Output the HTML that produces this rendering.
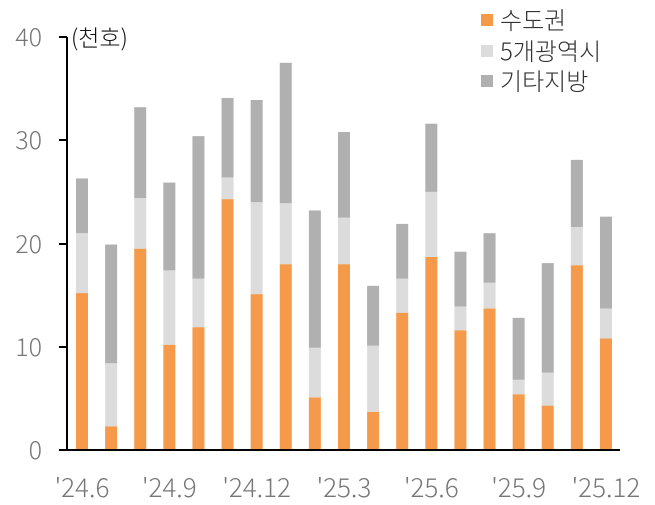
<!DOCTYPE html>
<html><head><meta charset="utf-8"><style>
html,body{margin:0;padding:0;background:#fff;}
svg{display:block;font-family:"Noto Sans CJK KR","Liberation Sans",sans-serif;font-weight:300;}
</style></head><body>
<svg width="655" height="505" viewBox="0 0 655 505" xmlns="http://www.w3.org/2000/svg">
<g id="bars"></g>
<line x1="67" y1="37" x2="67" y2="450" stroke="#000" stroke-width="2"/>
<line x1="59" y1="37" x2="67" y2="37" stroke="#000" stroke-width="2"/>
<line x1="59" y1="140" x2="67" y2="140" stroke="#000" stroke-width="2"/>
<line x1="59" y1="244" x2="67" y2="244" stroke="#000" stroke-width="2"/>
<line x1="59" y1="347" x2="67" y2="347" stroke="#000" stroke-width="2"/>
<line x1="59" y1="450" x2="620" y2="450" stroke="#000" stroke-width="2"/>
<g fill="#777" font-size="25" text-anchor="end">
<text x="42" y="46">40</text>
<text x="42" y="149">30</text>
<text x="42" y="253">20</text>
<text x="42" y="356">10</text>
<text x="42" y="459">0</text>
</g>
<text x="71" y="46" font-size="23" fill="#111">(천호)</text>
<g fill="#777" font-size="26" text-anchor="middle" id="xl"></g>
<rect x="481" y="14" width="12" height="12" fill="#F59A4A"/>
<rect x="481" y="45" width="12" height="12" fill="#DCDCDC"/>
<rect x="481" y="75" width="12" height="12" fill="#B0B0B0"/>
<g font-size="24" fill="#333">
<text x="500" y="29">수도권</text>
<text x="500" y="60">5개광역시</text>
<text x="500" y="90">기타지방</text>
</g>
<script>
var d=[[15.2,21.0,26.3],[2.3,8.4,19.9],[19.5,24.4,33.2],[10.2,17.4,25.9],[11.9,16.6,30.4],[24.3,26.4,34.1],[15.1,24.0,33.9],[18.0,23.9,37.5],[5.1,9.9,23.2],[18.0,22.5,30.8],[3.7,10.1,15.9],[13.3,16.6,21.9],[18.7,25.0,31.6],[11.6,13.9,19.2],[13.7,16.2,21.0],[5.4,6.8,12.8],[4.3,7.5,18.1],[17.9,21.6,28.1],[10.8,13.7,22.6]];
var c=["#F59A4A","#DCDCDC","#B0B0B0"],ns="http://www.w3.org/2000/svg",g=document.getElementById("bars");
function y(v){return 450-v*10.325;}
d.forEach(function(r,i){var x=76+i*29.11,p=0;r.forEach(function(v,k){var e=document.createElementNS(ns,"rect");e.setAttribute("x",x);e.setAttribute("width",12);e.setAttribute("y",y(v));e.setAttribute("height",y(p)-y(v));e.setAttribute("fill",c[k]);g.appendChild(e);p=v;});});
var L=["'24.6","'24.9","'24.12","'25.3","'25.6","'25.9","'25.12"],xl=document.getElementById("xl");
L.forEach(function(t,j){var e=document.createElementNS(ns,"text");e.setAttribute("x",82+j*3*29.11);e.setAttribute("y",497);e.textContent=t;xl.appendChild(e);});
</script>
</svg>
</body></html>
